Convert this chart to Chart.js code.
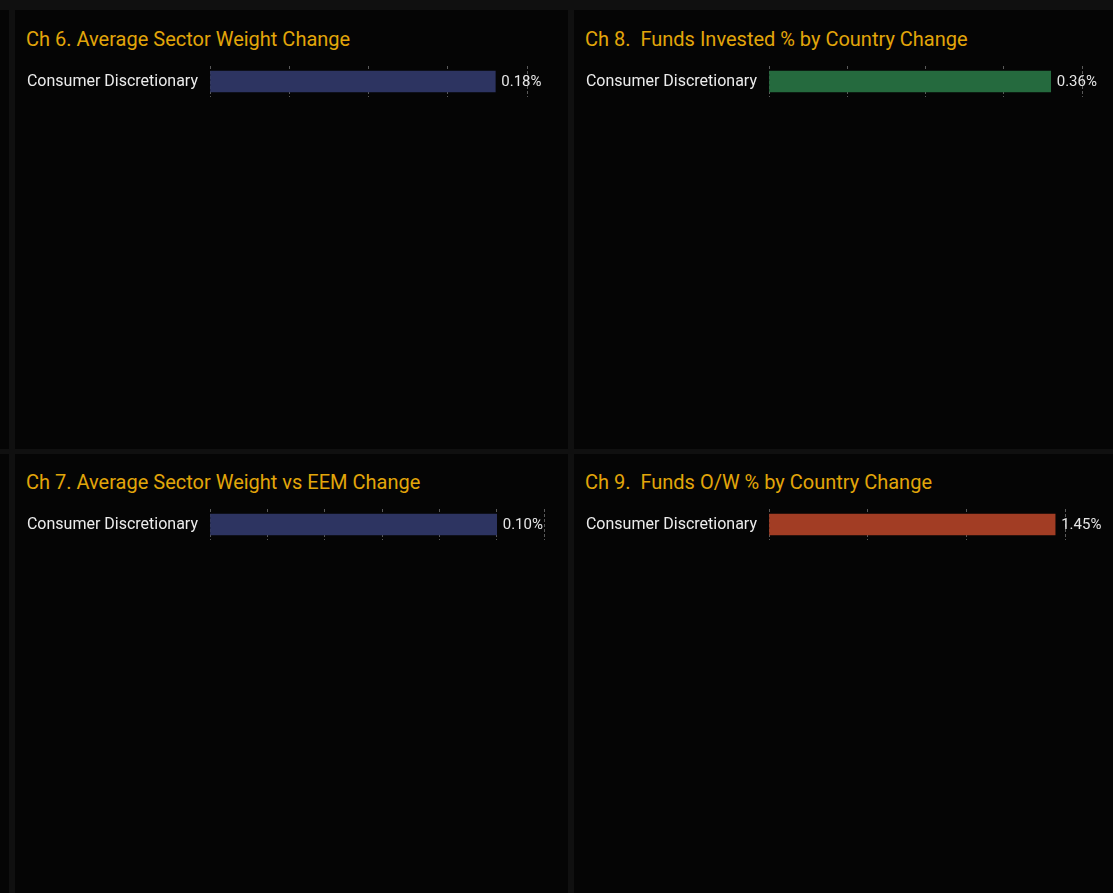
<!DOCTYPE html>
<html>
<head>
<meta charset="utf-8">
<script src="https://cdn.jsdelivr.net/npm/chart.js@4/dist/chart.umd.min.js"></script>
<style>
  html, body { margin: 0; padding: 0; }
  body { width: 1113px; height: 893px; background: #101010; position: relative; overflow: hidden; font-family: Roboto, "Noto Sans", sans-serif; }
  .panel { position: absolute; background: #050505; }
  .title { position: absolute; color: #e2a60a; font-size: 20px; line-height: 20px; white-space: pre; }
  .box { position: absolute; }
</style>
</head>
<body>
<div class="panel" style="left:0;top:10px;width:9px;height:439px"></div>
<div class="panel" style="left:0;top:454px;width:9px;height:439px"></div>
<div class="panel" style="left:15px;top:10px;width:553px;height:439px"></div>
<div class="panel" style="left:574px;top:10px;width:539px;height:439px"></div>
<div class="panel" style="left:15px;top:454px;width:553px;height:439px"></div>
<div class="panel" style="left:574px;top:454px;width:539px;height:439px"></div>

<div class="title" style="left:26px;top:29px">Ch 6. Average Sector Weight Change</div>
<div class="title" style="left:585px;top:29px">Ch 8.  Funds Invested % by Country Change</div>
<div class="title" style="left:26px;top:472px">Ch 7. Average Sector Weight vs EEM Change</div>
<div class="title" style="left:585px;top:472px">Ch 9.  Funds O/W % by Country Change</div>

<div class="box" style="left:15px;top:60px;width:553px;height:43px"><canvas id="c6"></canvas></div>
<div class="box" style="left:574px;top:60px;width:539px;height:43px"><canvas id="c8"></canvas></div>
<div class="box" style="left:15px;top:503px;width:553px;height:43px"><canvas id="c7"></canvas></div>
<div class="box" style="left:574px;top:503px;width:539px;height:43px"><canvas id="c9"></canvas></div>

<script>
// ---- data ----
const categories = ["Consumer Discretionary"];
const ch6Values = [0.18];   // Average Sector Weight Change (%)
const ch7Values = [0.10];   // Average Sector Weight vs EEM Change (%)
const ch8Values = [0.36];   // Funds Invested % by Country Change (%)
const ch9Values = [1.45];   // Funds O/W % by Country Change (%)
// gridline positions (x-axis ticks); first = axis min, last = axis max
const ch6Ticks = [0, 0.05, 0.10, 0.15, 0.20];
const ch7Ticks = [0, 0.02, 0.04, 0.06, 0.08, 0.10, 0.1165];
const ch8Ticks = [0, 0.1, 0.2, 0.3, 0.4];
const ch9Ticks = [0, 0.5, 1.0, 1.5];

const FONT = 'Roboto, "Noto Sans", sans-serif';

const valueLabel = {
  id: 'valueLabel',
  afterDatasetsDraw(chart) {
    const ctx = chart.ctx;
    ctx.save();
    ctx.font = '15px ' + FONT;
    ctx.fillStyle = '#e6e6e6';
    ctx.textAlign = 'left';
    ctx.textBaseline = 'middle';
    chart.data.datasets.forEach((ds, di) => {
      chart.getDatasetMeta(di).data.forEach((bar, i) => {
        ctx.fillText(ds.data[i].toFixed(2) + '%', bar.x + 6, bar.y + 1);
      });
    });
    ctx.restore();
  }
};

function makeChart(id, values, ticks, color, padRight) {
  new Chart(document.getElementById(id), {
    type: 'bar',
    data: {
      labels: categories,
      datasets: [{ data: values, backgroundColor: color, borderWidth: 0, barThickness: 21 }]
    },
    options: {
      indexAxis: 'y',
      responsive: true,
      maintainAspectRatio: false,
      animation: false,
      layout: { autoPadding: false, padding: { top: 6, bottom: 6, left: 0, right: padRight } },
      plugins: { legend: { display: false }, tooltip: { enabled: false }, title: { display: false } },
      scales: {
        x: {
          min: ticks[0], max: ticks[ticks.length - 1],
          ticks: { display: false },
          afterBuildTicks(scale) { scale.ticks = ticks.map(v => ({ value: v })); },
          grid: { color: '#5a5a5a', lineWidth: 1, drawTicks: false },
          border: { display: false, dash: [3, 2] },
          afterFit(scale) { scale.paddingLeft = 0; scale.paddingRight = 0; }
        },
        y: {
          ticks: { color: '#ececec', font: { size: 16, family: FONT }, padding: 12 },
          grid: { display: false, drawTicks: false },
          border: { display: false },
          afterFit(scale) { scale.width = 195; scale.paddingTop = 0; scale.paddingBottom = 0; }
        }
      }
    },
    plugins: [valueLabel]
  });
}

Chart.defaults.font.family = FONT;
makeChart('c6', ch6Values, ch6Ticks, '#2d3461', 41);
makeChart('c7', ch7Values, ch7Ticks, '#2d3461', 24);
makeChart('c8', ch8Values, ch8Ticks, '#256a3e', 31);
makeChart('c9', ch9Values, ch9Ticks, '#a23d24', 48);
</script>
</body>
</html>
